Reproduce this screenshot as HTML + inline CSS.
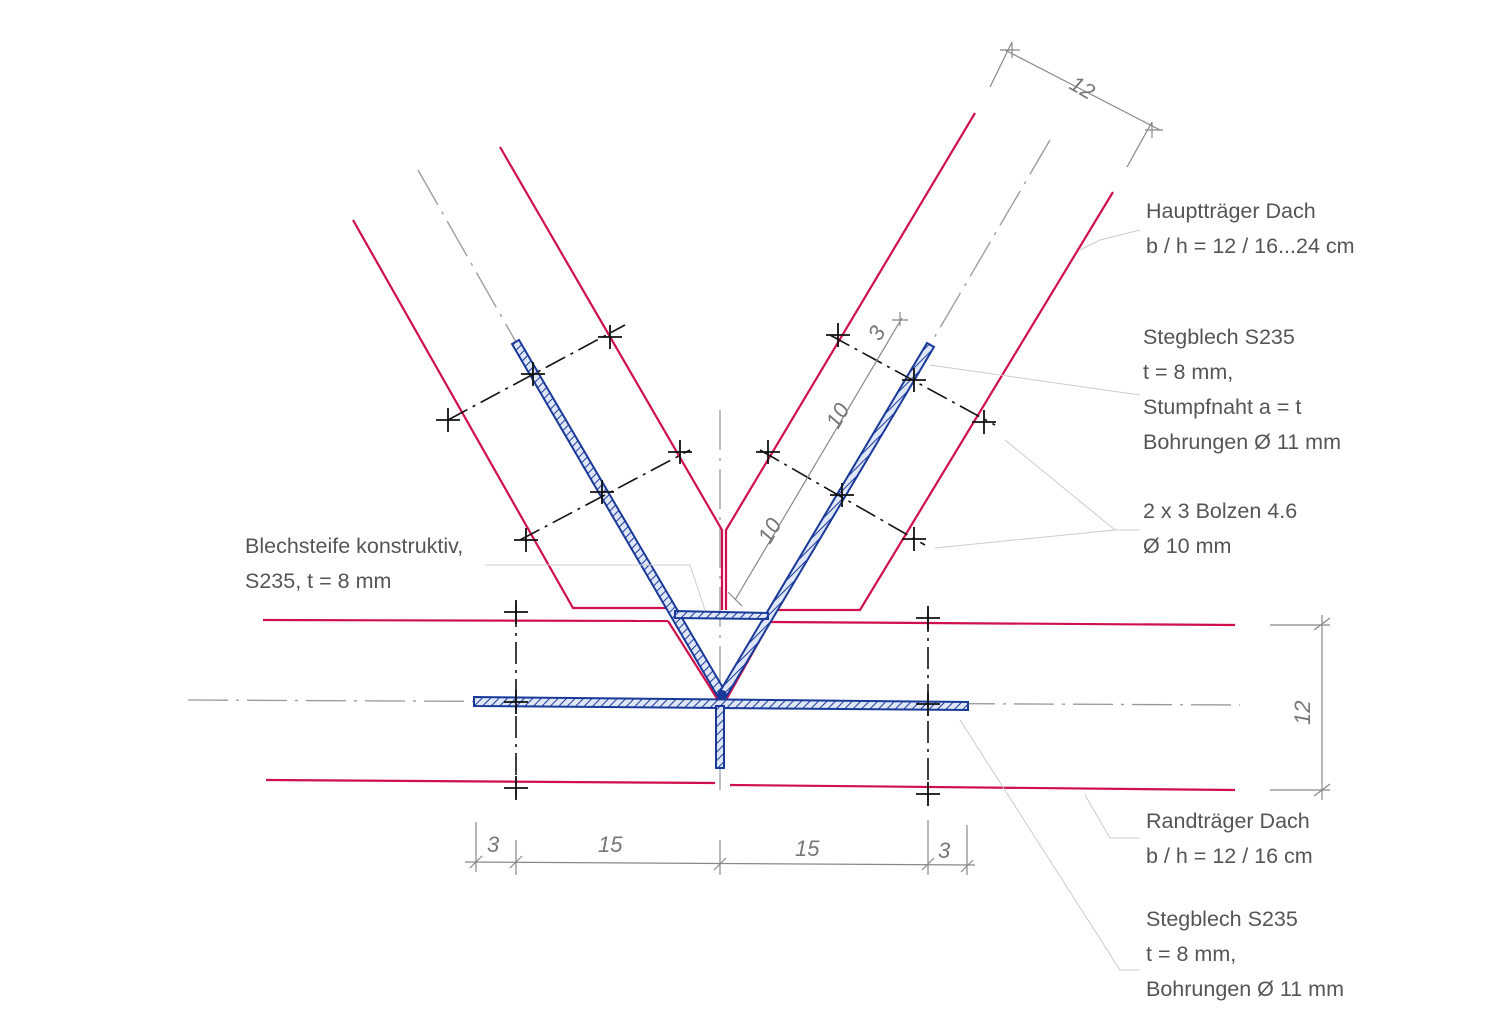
<!DOCTYPE html>
<html><head><meta charset="utf-8"><style>
html,body{margin:0;padding:0;background:#fff;}
svg{display:block;}
text{font-family:"Liberation Sans",sans-serif;fill:#555;}
.r{stroke:#d0104a;stroke-width:2.2;fill:none;}
.g{stroke:#999;stroke-width:1.3;fill:none;stroke-dasharray:40 8 3 8;}
.k{stroke:#111;stroke-width:1.6;fill:none;stroke-dasharray:22 6 3 6;}
.x{stroke:#111;stroke-width:1.8;}
.d{stroke:#888;stroke-width:1.2;fill:none;}
.l{stroke:#ccc;stroke-width:1;fill:none;}
.b{stroke:#1a3a9a;stroke-width:2;fill:url(#h);}
.dim{font-size:22px;fill:#777;font-style:italic;}
.t{font-size:21.5px;}
</style></head><body>
<svg width="1500" height="1035" viewBox="0 0 1500 1035">
<defs><pattern id="h" width="6" height="6" patternUnits="userSpaceOnUse" patternTransform="rotate(45)"><rect width="6" height="6" fill="#dfe6f8"/><line x1="0" y1="0" x2="0" y2="6" stroke="#1a3a9a" stroke-width="2"/></pattern></defs>

<line class="g" x1="418" y1="170" x2="720" y2="700"/>
<line class="g" x1="1050" y1="140" x2="722" y2="700"/>
<line class="g" x1="188" y1="700" x2="1240" y2="705"/>
<line class="g" x1="720" y1="410" x2="720" y2="790"/>

<polyline class="r" points="353,220 573,608 668,608"/>
<polyline class="r" points="500,147 722,530 722,610"/>
<polyline class="r" points="1113,192 860,610 770,610"/>
<polyline class="r" points="975,113 726,530 726,610"/>
<line class="r" x1="263" y1="620" x2="668" y2="621"/>
<line class="r" x1="770" y1="622" x2="1235" y2="625"/>
<line class="r" x1="266" y1="780" x2="715" y2="783"/>
<line class="r" x1="730" y1="785" x2="1235" y2="790"/>
<line class="r" x1="668" y1="621" x2="718" y2="700"/>
<line class="r" x1="770" y1="622" x2="726" y2="700"/>

<polygon class="b" points="512,344 519,340 726,693 718,697"/>
<polygon class="b" points="927,343 934,347 726,697 719,693"/>
<polygon class="b" points="474,697 968,702 968,710 474,706"/>
<polygon class="b" points="716,706 724,706 724,768 716,768"/>
<polygon class="b" points="675,611 768,613 768,619 675,618"/>
<circle cx="722" cy="695" r="5" fill="#1a3a9a"/>

<line class="k" x1="448" y1="420" x2="625" y2="325"/>
<line class="k" x1="520" y1="540" x2="690" y2="450"/>
<line class="k" x1="830" y1="335" x2="995" y2="425"/>
<line class="k" x1="760" y1="450" x2="925" y2="545"/>
<line class="k" x1="516" y1="605" x2="516" y2="795"/>
<line class="k" x1="928" y1="610" x2="928" y2="800"/>
<g class="x">
<path d="M448 408v24M436 420h24M610 325v24M598 337h24M526 528v24M514 540h24M680 440v24M668 452h24"/>
<path d="M838 323v24M826 335h24M984 410v24M972 422h24M768 440v24M756 452h24M914 527v24M902 539h24"/>
<path d="M516 600v24M504 612h24M516 690v24M504 702h24M516 776v24M504 788h24"/>
<path d="M928 606v24M916 618h24M928 692v24M916 704h24M928 782v24M916 794h24"/>
<path d="M533 362v24M521 374h24M602 480v24M590 492h24M914 368v24M902 380h24M842 483v24M830 495h24"/>
</g>

<line class="d" x1="465" y1="862" x2="975" y2="865"/>
<path class="d" d="M476 822v50M516 840v35M720 840v35M928 820v55M967 825v50M470 868l12-12M510 868l12-12M714 870l12-12M922 870l12-12M961 872l12-12"/>
<text class="dim" x="487" y="852">3</text>
<text class="dim" x="598" y="852">15</text>
<text class="dim" x="795" y="856">15</text>
<text class="dim" x="938" y="858">3</text>
<line class="d" x1="1322" y1="615" x2="1322" y2="800"/>
<path class="d" d="M1270 625h60M1270 790h60M1314 630l16-12M1314 796l16-12"/>
<text class="dim" transform="translate(1310,725) rotate(-90)">12</text>
<line class="d" x1="1005" y1="50" x2="1160" y2="130"/>
<path class="d" d="M1012 42l-22 45M1152 122l-25 45M1000 50h20M1012 42v16M1145 130h18M1152 122v16"/>
<text class="dim" transform="translate(1068,88) rotate(30)">12</text>
<line class="d" x1="735" y1="600" x2="902" y2="318"/>
<path class="d" d="M728 592l14 14M892 320l16 0M900 312v14"/>
<text class="dim" transform="translate(770,545) rotate(-60)">10</text>
<text class="dim" transform="translate(838,430) rotate(-60)">10</text>
<text class="dim" transform="translate(880,342) rotate(-60)">3</text>

<polyline class="l" points="1080,250 1100,240 1140,230"/>
<polyline class="l" points="930,365 1140,395"/>
<polyline class="l" points="1005,440 1115,530 1140,530"/>
<polyline class="l" points="935,548 1115,530"/>
<polyline class="l" points="485,565 690,565 705,610"/>
<polyline class="l" points="1085,795 1110,838 1140,838"/>
<polyline class="l" points="960,720 1120,970 1140,970"/>

<text class="t" x="1146" y="218">Hauptträger Dach</text>
<text class="t" x="1146" y="253">b / h = 12 / 16...24 cm</text>
<text class="t" x="1143" y="344">Stegblech S235</text>
<text class="t" x="1143" y="379">t = 8 mm,</text>
<text class="t" x="1143" y="414">Stumpfnaht a = t</text>
<text class="t" x="1143" y="449">Bohrungen Ø 11 mm</text>
<text class="t" x="1143" y="518">2 x 3 Bolzen 4.6</text>
<text class="t" x="1143" y="553">Ø 10 mm</text>
<text class="t" x="245" y="553">Blechsteife konstruktiv,</text>
<text class="t" x="245" y="588">S235, t = 8 mm</text>
<text class="t" x="1146" y="828">Randträger Dach</text>
<text class="t" x="1146" y="863">b / h = 12 / 16  cm</text>
<text class="t" x="1146" y="926">Stegblech S235</text>
<text class="t" x="1146" y="961">t = 8 mm,</text>
<text class="t" x="1146" y="996">Bohrungen Ø 11 mm</text>
</svg>
</body></html>
